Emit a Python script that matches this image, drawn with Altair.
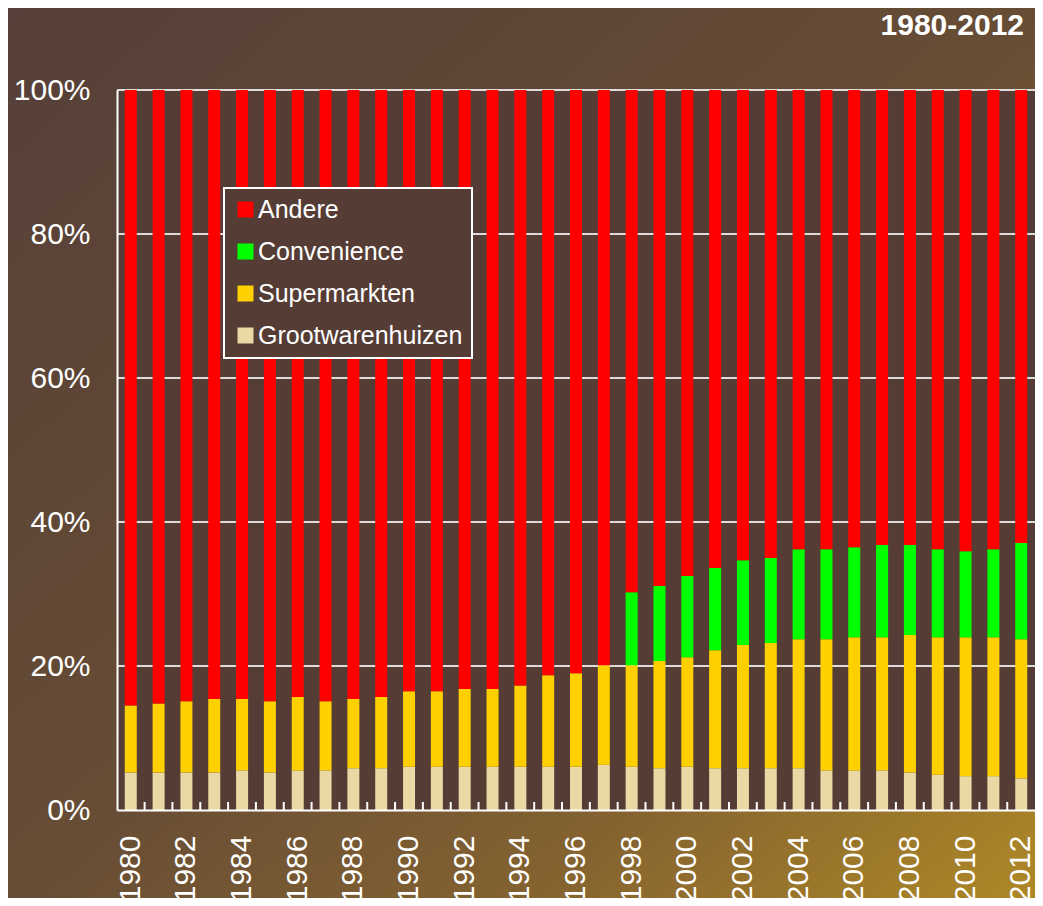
import altair as alt
import pandas as pd

years = [str(y) for y in range(1980, 2013)]
label_years = [str(y) for y in range(1980, 2013, 2)]

grootwarenhuizen = [5.2, 5.2, 5.2, 5.2, 5.5, 5.2, 5.5, 5.5, 5.8, 5.8, 6.0, 6.0, 6.0, 6.0, 6.0, 6.0, 6.0,
                    6.3, 6.0, 5.8, 6.0, 5.8, 5.8, 5.8, 5.8, 5.5, 5.5, 5.5, 5.2, 4.9, 4.7, 4.7, 4.4]
supermarkten = [9.3, 9.6, 9.9, 10.2, 9.9, 9.9, 10.2, 9.6, 9.6, 9.9, 10.5, 10.5, 10.8, 10.8, 11.3, 12.7, 13.0,
                13.8, 14.1, 14.9, 15.2, 16.4, 17.1, 17.4, 17.9, 18.2, 18.5, 18.5, 19.1, 19.1, 19.3, 19.3, 19.3]
convenience = [0.0] * 18 + [10.15, 10.4, 11.3, 11.4, 11.8, 11.8, 12.5, 12.5, 12.5, 12.8, 12.5, 12.2, 11.95, 12.2, 13.4]

series_names = ["Andere", "Convenience", "Supermarkten", "Grootwarenhuizen"]
series_colors = ["#FF0000", "#00FF00", "#FFD000", "#EAD9A4"]
grid_values = [0.2, 0.4, 0.6, 0.8, 1.0]
title_text = "1980-2012"

rows = []
for i, y in enumerate(years):
    g, s, c = grootwarenhuizen[i], supermarkten[i], convenience[i]
    a = round(100 - g - s - c, 2)
    for name, v, o in [("Grootwarenhuizen", g, 0), ("Supermarkten", s, 1),
                       ("Convenience", c, 2), ("Andere", a, 3)]:
        rows.append({"year": y, "series": name, "value": v / 100.0, "order": o})
df = pd.DataFrame(rows)

W, H = 918, 720
PAD = {"left": 109, "top": 82, "right": 0, "bottom": 88}
FONT = "Liberation Sans"

bg = alt.Chart(alt.Data(values=[{"k": 1}])).mark_rect(
    fill=alt.Gradient(
        gradient="linear", x1=0, y1=0, x2=1, y2=1,
        stops=[alt.GradientStop(color="#553F38", offset=0),
               alt.GradientStop(color="#674D35", offset=0.5),
               alt.GradientStop(color="#856330", offset=0.75),
               alt.GradientStop(color="#B08A26", offset=1)]),
).encode(
    x=alt.value(-PAD["left"]), x2=alt.value(W + 10),
    y=alt.value(-PAD["top"]), y2=alt.value(H + PAD["bottom"] + 10),
)

plotbg = alt.Chart(alt.Data(values=[{"k": 1}])).mark_rect(fill="#553D36").encode(
    x=alt.value(0), x2=alt.value(W), y=alt.value(0), y2=alt.value(H)
)

title = alt.Chart(alt.Data(values=[{"t": title_text}])).mark_text(
    align="right", baseline="middle", fontSize=30, font=FONT, fontWeight="bold", color="white"
).encode(text="t:N", x=alt.value(W - 11), y=alt.value(-64))

grid = alt.Chart(pd.DataFrame({"g": grid_values})).mark_rule(
    color="#DCDCDC", strokeWidth=2
).encode(y=alt.Y("g:Q", scale=alt.Scale(domain=[0, 1])))

bars = alt.Chart(df).mark_bar(size=12).encode(
    x=alt.X("year:O", sort=years, scale=alt.Scale(paddingInner=0.57, paddingOuter=0.28),
            axis=alt.Axis(title=None, values=label_years, labelAngle=270, labelFontSize=30,
                          labelColor="white", labelFont=FONT, labelPadding=25,
                          ticks=False, tickSize=0, domainColor="white", domainWidth=2,
                          zindex=1, labelOverlap=False)),
    y=alt.Y("value:Q", stack="zero", scale=alt.Scale(domain=[0, 1]),
            axis=alt.Axis(title=None, values=[0, 0.2, 0.4, 0.6, 0.8, 1.0], format=".0%",
                          labelFontSize=30, labelColor="white", labelFont=FONT,
                          labelPadding=27, ticks=False, tickSize=0, grid=False,
                          domainColor="white", domainWidth=2, zindex=1)),
    color=alt.Color("series:N", scale=alt.Scale(domain=series_names, range=series_colors),
                    legend=alt.Legend(title=None, orient="none", legendX=107, legendY=98,
                                      symbolType="square", symbolSize=256, symbolStrokeWidth=0,
                                      labelFontSize=25, labelColor="white", labelFont=FONT,
                                      labelOffset=0, rowPadding=16, padding=9,
                                      strokeColor="white", fillColor="#553D36",
                                      labelLimit=400)),
    order=alt.Order("order:Q", sort="ascending"),
)

ticks = alt.Chart(pd.DataFrame({"year": years[1:]})).mark_rule(
    color="white", strokeWidth=2, xOffset=-8
).encode(
    x=alt.X("year:O", sort=years, bandPosition=0),
    y=alt.value(H - 8), y2=alt.value(H),
)

chart = alt.layer(bg, plotbg, grid, bars, ticks, title).properties(
    width=W, height=H,
    autosize=alt.AutoSizeParams(type="none"),
    padding=PAD,
).configure_view(stroke=None).configure(background="#553F38").configure_legend(strokeWidth=2)

chart.save("out.html", embed_options={"renderer": "svg", "actions": False})
